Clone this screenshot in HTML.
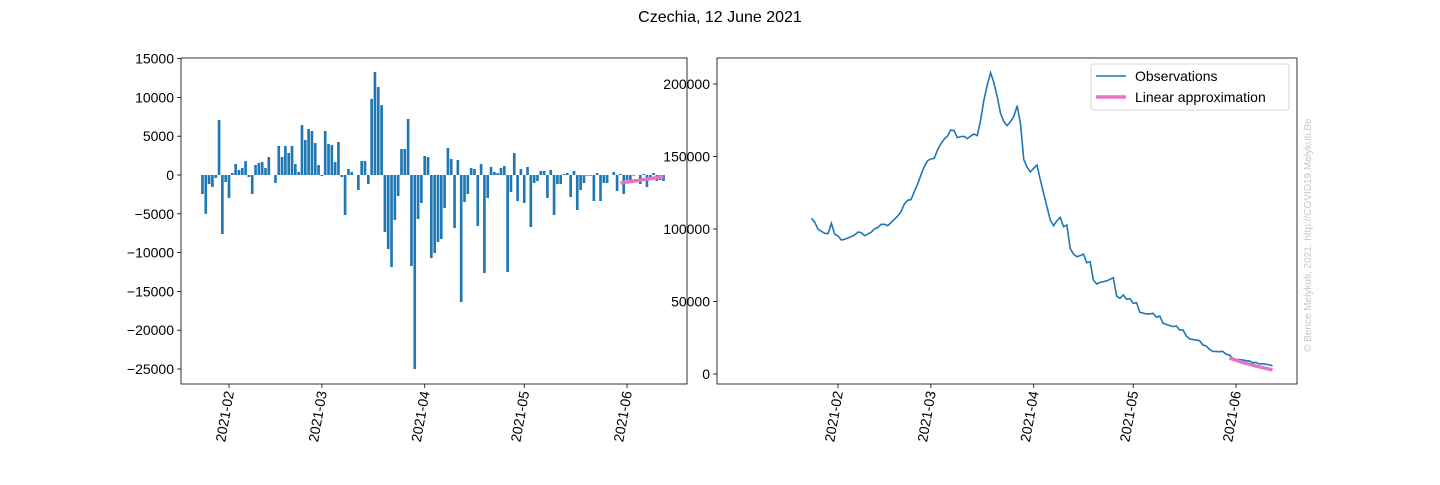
<!DOCTYPE html>
<html><head><meta charset="utf-8"><style>
body{margin:0;background:#fff;width:1440px;height:480px;overflow:hidden;font-family:"Liberation Sans","DejaVu Sans",sans-serif}
</style></head><body>
<svg id="fig" width="1440" height="480" xmlns="http://www.w3.org/2000/svg" font-family="Liberation Sans, DejaVu Sans, sans-serif">
<text x="720" y="22" text-anchor="middle" font-size="16">Czechia, 12 June 2021</text>
<g id="left"></g>
<g id="right"></g>
<text transform="translate(1311,352) rotate(-90)" font-size="10" fill="#c8c8c8">© Bence Melykuti, 2021. http://COVID19.Melykuti.Be</text>
</svg>
<script>
const barValues=[-2450,-5000,-1160,-1550,-390,7090,-7600,-900,-2960,260,1420,650,900,1800,-260,-2450,1290,1550,1680,900,2320,0,-1030,3740,2320,3740,2840,3740,1420,390,6440,4510,5930,5670,4120,1290,-130,5670,4000,3870,1680,4250,-260,-5150,770,390,0,-1930,1800,
1800,-1160,9800,13270,11340,9020,-7350,-9540,-11860,-5800,-2710,3350,3350,7220,-11730,-25000,-5670,-3610,2450,2320,-10700,-10050,-8630,-8250,-4250,3480,2060,-6830,1930,-16370,-3480,-2450,900,770,-6570,1420,-12630,-2960,1030,390,260,900,1160,-12500,-2190,2840,-3350,770,-3610,
1030,-6700,-1030,-770,520,520,-2960,640,-5150,-1160,-1160,130,260,-2840,520,-4510,-1930,-1030,-90,-90,-3350,260,-3350,-1030,-1030,0,390,-2060,130,-2450,-640,-640,-90,0,-1160,130,-1550,-640,260,-770,-640,-770];
const barStartDay=-8;
const leftFitDays=[118,131];
const leftFitValues=[-1030,-210];
const obsDays=[-8,-7,-6,-4,-3,-2,-1,0,1,2,4,5,6,7,8,10,11,12,13,14,15,17,18,19,20,21,22,23,24,25,26,27,28,29,30,31,32,33,34,35,36,37,38,39,40,41,42,43,44,45,46,47,48,49,50,51,52,53,54,55,56,57,58,59,60,61,62,63,64,65,66,67,68,69,70,71,72,73,74,75,76,77,78,79,81,83,84,85,86,87,88,89,90,91,93,94,95,96,97,98,100,101,102,103,104,105,106,108,109,110,111,112,113,115,116,117,118,119,120,122,123,124,125,126,127,128,129,130,131];
const obsValues=[107400,104600,99800,97000,96800,103900,96500,95200,92400,92900,94700,95900,97900,97500,95400,97700,100100,101000,103200,103200,102300,106700,109000,111900,117200,119800,120200,125700,131000,137200,143000,147100,148300,148700,154500,158600,162000,164100,168300,167800,163000,163700,163900,162300,164100,165500,164400,175200,189000,199300,207800,200900,191300,179800,174000,171300,174000,177500,185000,172900,148100,142600,139400,141900,144100,133800,124500,115400,106200,102300,105700,108000,101600,102800,86600,82700,80900,81600,82700,76800,77400,64800,62100,63200,64200,66400,53800,52200,54500,51500,52000,48700,49200,42600,41400,41400,41900,39100,40000,35000,33400,32700,33100,30400,30400,26200,24200,23400,23000,20000,19300,17000,15600,15400,15600,13600,13100,10800,10100,9700,9200,9000,7800,8000,6900,7100,6700,6400,5500];
const rightFitDays=[118,122,126,131];
const rightFitValues=[11000,8000,5500,2800];
const leftYTicks=[15000,10000,5000,0,-5000,-10000,-15000,-20000,-25000];
const rightYTicks=[0,50000,100000,150000,200000];
const dateTickDays=[0,28,59,89,120];
const dateTickLabels=["2021-02","2021-03","2021-04","2021-05","2021-06"];

const NS="http://www.w3.org/2000/svg";
function mk(parent,tag,attrs){const e=document.createElementNS(NS,tag);for(const k in attrs)e.setAttribute(k,attrs[k]);parent.appendChild(e);return e;}
const L=document.getElementById('left'),R=document.getElementById('right');
const lx=d=>229+d*3.317, ly=v=>175-v*0.00776;
const rx=d=>838+d*3.317, ry=v=>374-v*0.00145;

function axes(g,x0,y0,x1,y1,yt,yf,xf,prefix){
  for(const v of yt){const y=yf(v);
    const t=mk(g,'line',{x1:x0-4,x2:x0,y1:y,y2:y,stroke:'#000','stroke-width':0.8});
    
    
    const tx=mk(g,'text',{x:x0-7,y:y+5,'text-anchor':'end','font-size':14});
    tx.textContent=String(v).replace('-','\u2212');
    
    }
  dateTickDays.forEach((d,i)=>{const x=xf(d);
    const t=mk(g,'line',{x1:x,x2:x,y1:y1,y2:y1+4,stroke:'#000','stroke-width':0.8});
    
    
    const tx=mk(g,'text',{transform:`translate(${x+5},${y1+8}) rotate(-80)`,'text-anchor':'end','font-size':14});
    tx.textContent=dateTickLabels[i];
    
    });
}
// left
barValues.forEach((v,i)=>{const d=barStartDay+i,x=lx(d),y0=ly(0),y=ly(v);
  const b=mk(L,'rect',{x:x-1.33,width:2.66,y:Math.min(y,y0),height:Math.abs(y-y0),fill:'#1f77b4'});
  
  });
const lf=mk(L,'polyline',{points:leftFitDays.map((d,i)=>lx(d)+','+ly(leftFitValues[i])).join(' '),fill:'none',stroke:'#e377c2','stroke-width':3.5});


axes(L,181,58,687,384,leftYTicks,ly,lx,'left');
mk(L,'rect',{x:181,y:58,width:506,height:326,fill:'none',stroke:'#000','stroke-width':0.8});
// right
const ol=mk(R,'polyline',{points:obsDays.map((d,i)=>rx(d)+','+ry(obsValues[i])).join(' '),fill:'none',stroke:'#1f77b4','stroke-width':1.6});


const rf=mk(R,'polyline',{points:rightFitDays.map((d,i)=>rx(d)+','+ry(rightFitValues[i])).join(' '),fill:'none',stroke:'#e377c2','stroke-width':3.5});


axes(R,717,58,1297,384,rightYTicks,ry,rx,'right');
mk(R,'rect',{x:717,y:58,width:580,height:326,fill:'none',stroke:'#000','stroke-width':0.8});
// legend
const lg=mk(R,'g',{});


mk(lg,'rect',{x:1091,y:64,width:198,height:46,rx:3,fill:'#fff',stroke:'#ccc','stroke-width':0.8});
[['Observations','#1f77b4',1.6,76],['Linear approximation','#e377c2',3.5,97]].forEach(([t,c,w,y])=>{
  const e=mk(lg,'g',{});
  
  
  mk(e,'line',{x1:1096,x2:1126,y1:y,y2:y,stroke:c,'stroke-width':w});
  const tx=mk(e,'text',{x:1135,y:y+5,'font-size':14});tx.textContent=t;});
</script>
</body></html>
